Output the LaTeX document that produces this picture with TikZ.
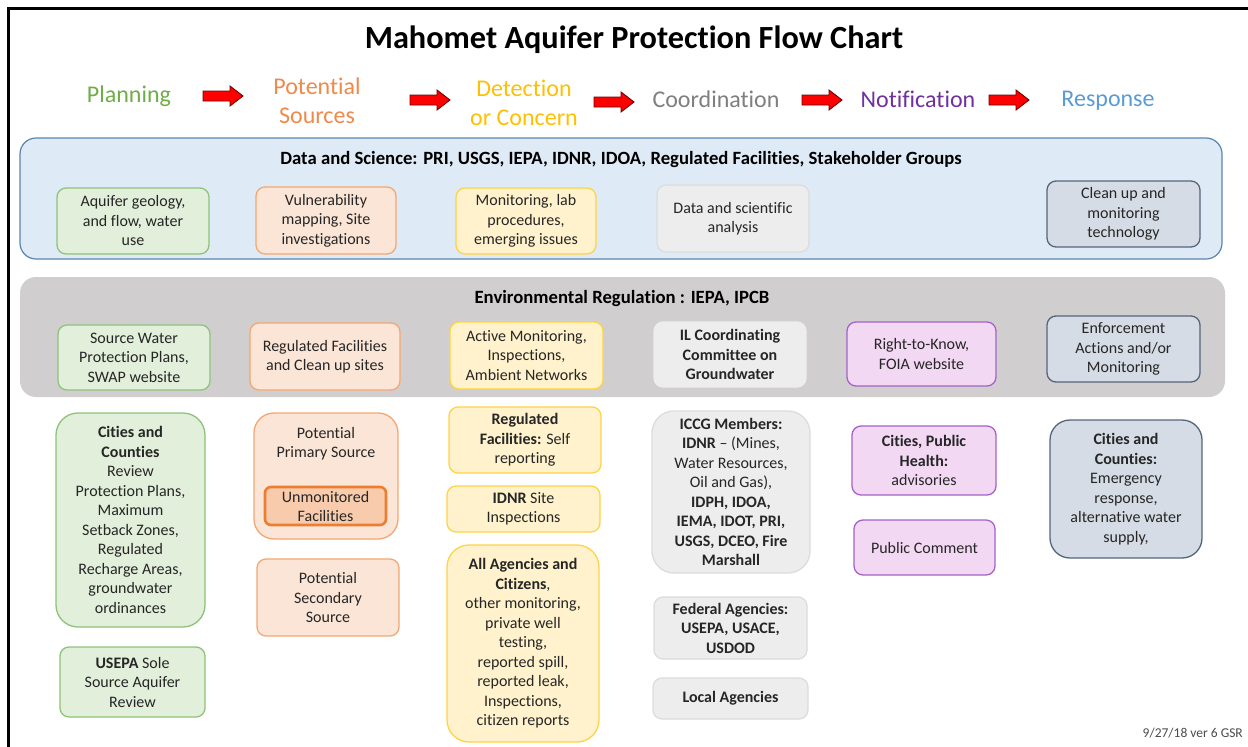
\documentclass[tikz,border=0pt]{standalone}
\usepackage{fontspec}
\setmainfont{Carlito}[Ligatures=NoCommon]
\definecolor{txt}{HTML}{262626}
\definecolor{cPlan}{HTML}{70AD47}
\definecolor{cSrc}{HTML}{F08A4B}
\definecolor{cDet}{HTML}{FFC000}
\definecolor{cCoord}{HTML}{7F7F7F}
\definecolor{cNot}{HTML}{7030A0}
\definecolor{cResp}{HTML}{5B9BD5}
\definecolor{gFill}{HTML}{E2EFDA}\definecolor{gDraw}{HTML}{8FC27A}
\definecolor{oFill}{HTML}{FBE5D6}\definecolor{oDraw}{HTML}{F4A772}
\definecolor{oFill2}{HTML}{F8CBAD}\definecolor{oDraw2}{HTML}{ED7D31}
\definecolor{yFill}{HTML}{FFF2CC}\definecolor{yDraw}{HTML}{FFD347}
\definecolor{kFill}{HTML}{EDEDED}\definecolor{kDraw}{HTML}{DCDCDC}
\definecolor{pFill}{HTML}{F3D8F3}\definecolor{pDraw}{HTML}{A463C8}
\definecolor{sFill}{HTML}{D6DCE5}\definecolor{sDraw}{HTML}{56657A}
\definecolor{bPanel}{HTML}{DEEBF7}\definecolor{bPanelDraw}{HTML}{5B84B1}
\definecolor{gPanel}{HTML}{D0CECE}
\begin{document}
\begin{tikzpicture}[x=1pt,y=-1pt,
  hd/.style={align=center, inner sep=0pt, font=\fontsize{24}{29}\selectfont},
  ptitle/.style={inner sep=0pt, text=black, font=\bfseries\fontsize{18.7}{22}\selectfont},
  sz/.style 2 args={minimum width=#1pt, minimum height=#2pt},
  bx/.style={rectangle, rounded corners=9pt, line width=1.3pt, inner sep=0pt, align=center, text=txt, font=\fontsize{16}{19.5}\selectfont},
  gbx/.style={bx, draw=gDraw, fill=gFill},
  obx/.style={bx, draw=oDraw, fill=oFill},
  ybx/.style={bx, draw=yDraw, fill=yFill},
  kbx/.style={bx, draw=kDraw, fill=kFill},
  pbx/.style={bx, draw=pDraw, fill=pFill},
  sbx/.style={bx, draw=sDraw, fill=sFill},
  redarrow/.style={fill=red, draw=black!55!red, line width=0.9pt, line join=miter}
]
\useasboundingbox (0,0) rectangle (1248,747);
\fill[white] (0,0) rectangle (1248,747);
\draw[line width=3pt] (8,747) -- (8,8) -- (1248,8);

% title
\node[font=\bfseries\fontsize{32.3}{38}\selectfont, text=black] (title) at (634,40) {Mahomet Aquifer Protection Flow Chart};

% header
\node[hd, text=cPlan] (planning) at (129,96) {Planning};
\node[hd, text=cSrc] (sources) at (317,101) {Potential\\Sources};
\node[hd, text=cDet] (detection) at (524,103) {Detection\\or Concern};
\node[hd, text=cCoord] (coord) at (716,99) {Coordination};
\node[hd, text=cNot] (notif) at (918,99) {Notification};
\node[hd, text=cResp] (resp) at (1108,101) {Response};

\foreach \ax/\ay in {223/96, 430/100, 614/102, 822/100, 1009/100}{
  \draw[redarrow, shift={(\ax,\ay)}] (-20,-5) -- (7,-5) -- (7,-10) -- (20,0) -- (7,10) -- (7,5) -- (-20,5) -- cycle;
}

% Data and Science panel
\node[rectangle, rounded corners=16pt, draw=bPanelDraw, fill=bPanel, line width=1.2pt, sz={1202}{121}] (datapanel) at (621,198.5) {};
\node[ptitle] (datatitle) at (621,160) {Data and Science: PRI, USGS, IEPA, IDNR, IDOA, Regulated Facilities, Stakeholder Groups};
\node[gbx, sz={152}{66}] (d1) at (133,221) {Aquifer geology,\\and flow, water\\use};
\node[obx, sz={140}{67}] (d2) at (326,220.5) {Vulnerability\\mapping, Site\\investigations};
\node[ybx, sz={140}{66}] (d3) at (526,221) {Monitoring, lab\\procedures,\\emerging issues};
\node[kbx, sz={152}{67}] (d4) at (733,218.5) {Data and scientific\\analysis};
\node[sbx, sz={153}{66}] (d5) at (1123.5,214) {Clean up and\\monitoring\\technology};

% Environmental Regulation panel
\node[rectangle, rounded corners=16pt, fill=gPanel, sz={1205}{120}] (regpanel) at (622.5,337) {};
\node[ptitle] (regtitle) at (622,299) {Environmental Regulation : IEPA, IPCB};
\node[gbx, sz={152}{65}] (r1) at (134,357.5) {Source Water\\Protection Plans,\\SWAP website};
\node[obx, sz={150}{67}] (r2) at (325,356.5) {Regulated Facilities\\and Clean up sites};
\node[ybx, sz={153}{67}] (r3) at (526.5,355.5) {Active Monitoring,\\Inspections,\\Ambient Networks};
\node[kbx, draw=kFill, sz={152}{65}] (r4) at (730,354.5) {\textbf{IL Coordinating}\\\textbf{Committee on}\\\textbf{Groundwater}};
\node[pbx, sz={149}{64}] (r5) at (921.5,354) {Right-to-Know,\\FOIA website};
\node[sbx, sz={153}{66}] (r6) at (1123.5,349) {Enforcement\\Actions and/or\\Monitoring};

% Lower boxes: Planning
\node[gbx, rounded corners=22pt, sz={149}{214}] (b1) at (130.5,520) {\textbf{Cities and}\\\textbf{Counties}\\Review\\Protection Plans,\\Maximum\\Setback Zones,\\Regulated\\Recharge Areas,\\groundwater\\ordinances};
\node[gbx, sz={145}{70}] (b2) at (132.5,682) {\textbf{USEPA} Sole\\Source Aquifer\\Review};

% Potential sources
\node[obx, rounded corners=20pt, sz={144}{126}] (b3) at (326,476) {};
\node[bx, inner sep=0pt] (b3t) at (326,443.5) {Potential\\Primary Source};
\node[bx, draw=oDraw2, fill=oFill2, line width=2.6pt, rounded corners=6pt, sz={121}{38}, font=\fontsize{16}{19}\selectfont] (b3i) at (325.5,506) {Unmonitored\\Facilities};
\node[obx, sz={142}{77}] (b4) at (328,597.5) {Potential\\Secondary\\Source};

% Detection
\node[ybx, sz={152}{66}] (b5) at (525,440) {\textbf{Regulated}\\\textbf{Facilities:} Self\\reporting};
\node[ybx, sz={153}{46}] (b6) at (523.5,509) {\textbf{IDNR} Site\\Inspections};
\node[ybx, rounded corners=22pt, sz={152}{197}] (b7) at (523,643.5) {\textbf{All Agencies and}\\\textbf{Citizens},\\other monitoring,\\private well\\testing,\\reported spill,\\reported leak,\\Inspections,\\citizen reports};

% Coordination
\node[kbx, rounded corners=22pt, sz={158}{162}] (b8) at (731,492) {\textbf{ICCG Members:}\\\textbf{IDNR} -- (Mines,\\Water Resources,\\Oil and Gas),\\\textbf{IDPH, IDOA,}\\\textbf{IEMA, IDOT, PRI,}\\\textbf{USGS, DCEO, Fire}\\\textbf{Marshall}};
\node[kbx, sz={153}{62}] (b9) at (730.5,628) {\textbf{Federal Agencies:}\\\textbf{USEPA, USACE,}\\\textbf{USDOD}};
\node[kbx, sz={155}{41}] (b10) at (730.5,698.5) {\textbf{Local Agencies}};

% Notification
\node[pbx, sz={144}{69}] (b11) at (924,460.5) {\textbf{Cities, Public}\\\textbf{Health:}\\advisories};
\node[pbx, sz={141}{55}] (b12) at (924.5,547.5) {Public Comment};

% Response
\node[sbx, rounded corners=20pt, sz={152}{138}] (b13) at (1126,489) {\textbf{Cities and}\\\textbf{Counties:}\\Emergency\\response,\\alternative water\\supply,};

% footer
\node[anchor=east, inner sep=0pt, text=black!70, font=\fontsize{13.5}{15}\selectfont] (footer) at (1243,733) {9/27/18 ver 6 GSR};
\end{tikzpicture}
\end{document}
